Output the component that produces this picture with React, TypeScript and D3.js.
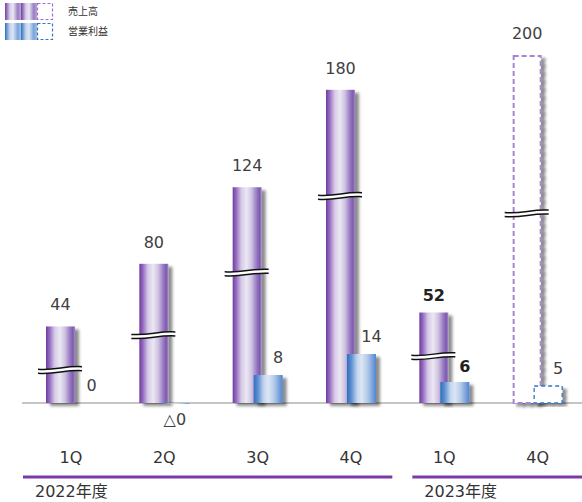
import React from 'react';
import * as d3 from 'd3';

// Quarterly results: sales (売上高) and operating profit (営業利益)
const periods = ['FY22-1Q', 'FY22-2Q', 'FY22-3Q', 'FY22-4Q', 'FY23-1Q', 'FY23-4Q'];
const quarterLabels = ['1Q', '2Q', '3Q', '4Q', '1Q', '4Q'];
const sales = [44, 80, 124, 180, 52, 200];
const profit = [0, -0.2, 8, 14, 6, 5];
const isForecast = [false, false, false, false, false, true];
const isHighlight = [false, false, false, false, true, false];
// value on the sales bar where the "axis break" mark is drawn
const breakAt = [20, 40, 76, 120, 28, 110];

const yearLabels = ['2022年度', '2023年度'];
const yearFirst = [0, 4];
const yearLast = [3, 5];

const legendLabels = ['売上高', '営業利益'];

const W = 582;
const H = 502;
const baseY = 403;

const numFont = '"DejaVu Sans", Verdana, sans-serif';
const jpFont = '"DejaVu Sans", "Noto Sans CJK JP", sans-serif';

const fmt = (v: number) => (v < 0 ? '△' + Math.abs(Math.round(v)) : String(Math.round(v)));

function breakPaths(x0: number, x1: number, y: number) {
  const w = x1 - x0;
  const line = (dy: number) =>
    `M${x0},${y + 1 + dy} C${x0 + w * 0.4},${y + 2.5 + dy} ${x0 + w * 0.6},${y - 2.5 + dy} ${x1},${y - 1.5 + dy}`;
  const back = (dy: number) =>
    `C${x0 + w * 0.6},${y - 2.5 + dy} ${x0 + w * 0.4},${y + 2.5 + dy} ${x0},${y + 1 + dy}`;
  const top = line(0);
  const bottom = line(4);
  const fill = `${top} L${x1},${y - 1.5 + 4} ${back(4)} Z`;
  return { top, bottom, fill };
}

export default function App() {
  const x0 = d3.scaleBand<string>().domain(periods).range([22, W]).padding(0);
  const barW = 29;
  const salesOff = 24;
  const profitOff = 45;

  const ySales = d3.scaleLinear().domain([0, 200]).range([baseY, 55]);
  const yProfit = d3.scaleLinear().domain([0, 100]).range([baseY, 53]);

  const boundary = (x0(periods[yearFirst[1]]) as number) + 7;
  const yearLineStart = [(x0(periods[yearFirst[0]]) as number) + 1, boundary + 10];
  const yearLineEnd = [boundary - 10, (x0(periods[yearLast[1]]) as number) + x0.bandwidth()];

  return (
    <svg
      width={W}
      height={H}
      style={{ position: 'absolute', left: 0, top: 0, background: '#fff' }}
    >
      <defs>
        <linearGradient id="gSales" x1="0" x2="1" y1="0" y2="0">
          <stop offset="0" stopColor="#6f3d9f" />
          <stop offset="0.12" stopColor="#9469c0" />
          <stop offset="0.3" stopColor="#d6cbe7" />
          <stop offset="0.48" stopColor="#ebe8f3" />
          <stop offset="0.65" stopColor="#cfc3e2" />
          <stop offset="0.82" stopColor="#9a7cc4" />
          <stop offset="0.93" stopColor="#7f58b2" />
          <stop offset="1" stopColor="#a090c0" />
        </linearGradient>
        <linearGradient id="gProfit" x1="0" x2="1" y1="0" y2="0">
          <stop offset="0" stopColor="#2f6fbf" />
          <stop offset="0.15" stopColor="#5d90d0" />
          <stop offset="0.35" stopColor="#c4d5ee" />
          <stop offset="0.5" stopColor="#dce6f5" />
          <stop offset="0.7" stopColor="#b5cbe9" />
          <stop offset="0.88" stopColor="#7aa2da" />
          <stop offset="1" stopColor="#4f85cf" />
        </linearGradient>
        <linearGradient id="gSalesLeg" x1="0" x2="0.5" y1="0" y2="0" spreadMethod="repeat">
          <stop offset="0" stopColor="#6f3d9f" />
          <stop offset="0.3" stopColor="#d6cbe7" />
          <stop offset="0.5" stopColor="#ebe8f3" />
          <stop offset="0.8" stopColor="#9a7cc4" />
          <stop offset="1" stopColor="#b8a8d4" />
        </linearGradient>
        <linearGradient id="gProfitLeg" x1="0" x2="0.5" y1="0" y2="0" spreadMethod="repeat">
          <stop offset="0" stopColor="#2f6fbf" />
          <stop offset="0.3" stopColor="#c4d5ee" />
          <stop offset="0.5" stopColor="#dce6f5" />
          <stop offset="0.8" stopColor="#7aa2da" />
          <stop offset="1" stopColor="#a8c2e6" />
        </linearGradient>
        <filter id="shadow" x="-30%" y="-10%" width="170%" height="130%">
          <feGaussianBlur in="SourceAlpha" stdDeviation="1.8" />
          <feOffset dx="4" dy="3" result="off" />
          <feComponentTransfer>
            <feFuncA type="linear" slope="0.45" />
          </feComponentTransfer>
          <feMerge>
            <feMergeNode />
            <feMergeNode in="SourceGraphic" />
          </feMerge>
        </filter>
      </defs>

      {/* legend */}
      <g>
        <rect x={5} y={3} width={32} height={17} fill="url(#gSalesLeg)" />
        <rect x={37.5} y={3.5} width={15} height={16} fill="#fff" stroke="#9f6fd0" strokeWidth={1.2} strokeDasharray="3,2" />
        <rect x={5} y={23} width={32} height={17} fill="url(#gProfitLeg)" />
        <rect x={37.5} y={23.5} width={15} height={16} fill="#fff" stroke="#2e78c8" strokeWidth={1.2} strokeDasharray="3,2" />
        {legendLabels.map((t, i) => (
          <text key={t} x={68} y={15 + i * 20} fontSize={10} fill="#333" fontFamily={jpFont}>
            {t}
          </text>
        ))}
      </g>

      {/* baseline */}
      <line x1={22} x2={W} y1={baseY} y2={baseY} stroke="#8c8c8c" strokeWidth={1.2} />

      {periods.map((p, i) => {
        const bx = x0(p) as number;
        const sx = bx + salesOff;
        const px = bx + profitOff;
        const sTop = ySales(sales[i]);
        const pv = profit[i];
        const pTop = Math.min(yProfit(pv), baseY);
        const pH = Math.abs(yProfit(pv) - baseY);
        const fc = isForecast[i];
        const hl = isHighlight[i];
        const br = breakPaths(sx - 8, sx + barW + 7, ySales(breakAt[i]));
        const pLabelX = px + barW / 2 + 10;
        return (
          <g key={p}>
            {/* sales bar */}
            <rect
              x={fc ? sx + 1 : sx}
              y={fc ? sTop + 1 : sTop}
              width={fc ? barW - 2 : barW}
              height={fc ? baseY - sTop - 1 : baseY - sTop}
              fill={fc ? '#fff' : 'url(#gSales)'}
              stroke={fc ? '#a884d2' : 'none'}
              strokeWidth={fc ? 2 : 0}
              strokeDasharray={fc ? '5,3' : undefined}
              filter="url(#shadow)"
            />
            {/* break mark */}
            <path d={br.fill} fill="#fff" stroke="none" />
            <path d={br.top} fill="none" stroke="#111" strokeWidth={1.5} />
            <path d={br.bottom} fill="none" stroke="#111" strokeWidth={1.5} />

            {/* profit bar */}
            {pH > 0.5 && (
              <rect
                x={fc ? px + 0.5 : px}
                y={fc ? pTop + 0.5 : pTop}
                width={fc ? barW - 1 : barW}
                height={fc ? pH - 0.5 : pH}
                fill={fc ? '#fff' : 'url(#gProfit)'}
                stroke={fc ? '#2e78c8' : 'none'}
                strokeWidth={fc ? 1.3 : 0}
                strokeDasharray={fc ? '4,3' : undefined}
                filter="url(#shadow)"
              />
            )}

            {/* labels */}
            <text
              x={sx + barW / 2}
              y={sTop - (hl ? 12 : 16)}
              textAnchor="middle"
              fontSize={16}
              fontWeight={hl ? 'bold' : 'normal'}
              fill={hl ? '#222' : '#404040'}
              fontFamily={numFont}
            >
              {fmt(sales[i])}
            </text>
            {pv < 0 ? (
              <text
                x={px + barW / 2}
                y={baseY + 22}
                textAnchor="middle"
                fontSize={16}
                fill="#404040"
                fontFamily={jpFont}
              >
                {fmt(pv)}
              </text>
            ) : (
              <text
                x={pLabelX}
                y={pTop - (hl ? 10 : 12)}
                textAnchor="middle"
                fontSize={16}
                fontWeight={hl ? 'bold' : 'normal'}
                fill={hl ? '#222' : '#404040'}
                fontFamily={numFont}
              >
                {fmt(pv)}
              </text>
            )}

            {/* quarter label */}
            <text
              x={bx + salesOff + 25}
              y={463}
              textAnchor="middle"
              fontSize={16}
              fill="#333"
              fontFamily={numFont}
            >
              {quarterLabels[i]}
            </text>
          </g>
        );
      })}

      {/* fiscal year groups */}
      {yearLabels.map((t, i) => (
        <g key={t}>
          <line
            x1={yearLineStart[i]}
            x2={yearLineEnd[i]}
            y1={477}
            y2={477}
            stroke="#7a3aaa"
            strokeWidth={3}
          />
          <text x={yearLineStart[i] + 12} y={497} fontSize={16} fill="#333" fontFamily={jpFont}>
            {t}
          </text>
        </g>
      ))}
    </svg>
  );
}
